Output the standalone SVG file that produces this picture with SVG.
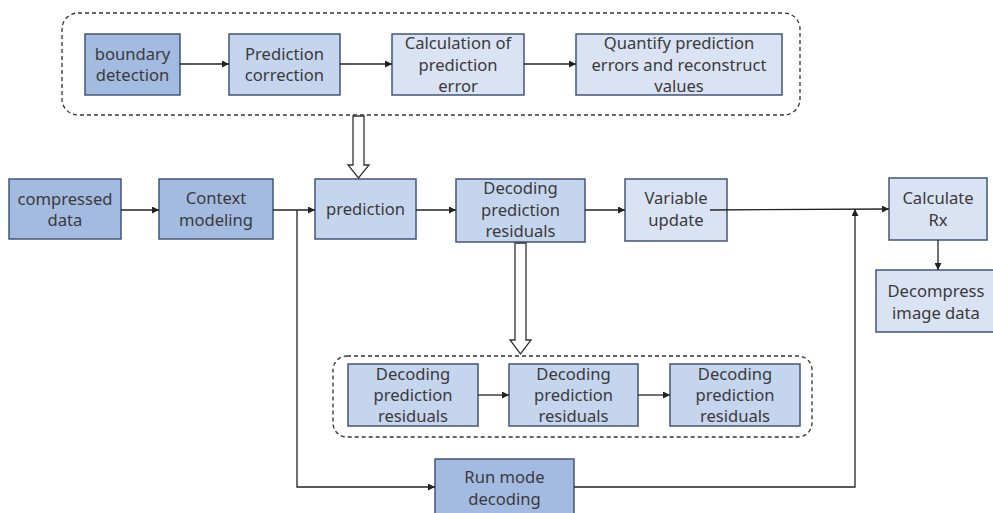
<svg xmlns="http://www.w3.org/2000/svg" width="993" height="513" viewBox="0 0 993 513">
<style>
.b{stroke:#42557a;stroke-width:1.5}
.d{fill:#a4bbe1}
.m{fill:#c6d5ee}
.l{fill:#dae3f3}
.g{fill:none;stroke:#333;stroke-width:1.3;stroke-dasharray:4,3}
.c{fill:none;stroke:#222;stroke-width:1.3}
.h{fill:#fff;stroke:#333;stroke-width:1.3}
text{font-family:"Noto Sans","Open Sans","DejaVu Sans",sans-serif;font-size:16.6px;fill:#3a3a3a;text-anchor:middle}
</style>
<defs>
<marker id="a" viewBox="0 0 10 10" refX="10" refY="5" markerWidth="7" markerHeight="7" markerUnits="userSpaceOnUse" orient="auto">
<path d="M0,0 L10,5 L0,10 z" fill="#222"/>
</marker>
</defs>
<rect class="g" x="62" y="13" width="738" height="102" rx="16"/>
<rect class="g" x="333" y="356" width="479" height="81" rx="14"/>
<g id="boundary"><rect class="b d" x="85" y="34" width="95" height="61"/><text x="132.5" y="60">boundary</text><text x="132.5" y="81">detection</text></g>
<g id="predcorr"><rect class="b m" x="229" y="34" width="111" height="61"/><text x="284.5" y="60">Prediction</text><text x="284.5" y="81">correction</text></g>
<g id="calc"><rect class="b l" x="392" y="34" width="132" height="61"/><text x="458" y="49">Calculation of</text><text x="458" y="71">prediction</text><text x="458" y="92">error</text></g>
<g id="quant"><rect class="b l" x="576" y="34" width="206" height="61"/><text x="679" y="49">Quantify prediction</text><text x="679" y="71">errors and reconstruct</text><text x="679" y="92">values</text></g>
<g id="compressed"><rect class="b d" x="9" y="179" width="112" height="60"/><text x="65" y="205">compressed</text><text x="65" y="226">data</text></g>
<g id="context"><rect class="b d" x="159" y="179" width="114" height="60"/><text x="216" y="204">Context</text><text x="216" y="226">modeling</text></g>
<g id="prediction"><rect class="b m" x="315" y="179" width="101" height="60"/><text x="365.5" y="215">prediction</text></g>
<g id="decres"><rect class="b m" x="456" y="179" width="129" height="63"/><text x="520.5" y="194">Decoding</text><text x="520.5" y="216">prediction</text><text x="520.5" y="237">residuals</text></g>
<g id="varupd"><rect class="b l" x="625" y="179" width="102" height="62"/><text x="676" y="204">Variable</text><text x="676" y="226">update</text></g>
<g id="calcrx"><rect class="b l" x="889" y="178" width="98" height="62"/><text x="938" y="204">Calculate</text><text x="938" y="226">Rx</text></g>
<g id="decomp"><rect class="b l" x="876" y="270" width="120" height="62"/><text x="936" y="297">Decompress</text><text x="936" y="319">image data</text></g>
<g id="res1"><rect class="b m" x="348" y="364" width="130" height="62"/><text x="413" y="380">Decoding</text><text x="413" y="401">prediction</text><text x="413" y="422">residuals</text></g>
<g id="res2"><rect class="b m" x="509" y="364" width="129" height="62"/><text x="573.5" y="380">Decoding</text><text x="573.5" y="401">prediction</text><text x="573.5" y="422">residuals</text></g>
<g id="res3"><rect class="b m" x="670" y="364" width="130" height="62"/><text x="735" y="380">Decoding</text><text x="735" y="401">prediction</text><text x="735" y="422">residuals</text></g>
<g id="runmode"><rect class="b d" x="435" y="459" width="139" height="60"/><text x="504.5" y="483">Run mode</text><text x="504.5" y="505">decoding</text></g>
<g id="connectors">
<line class="c" x1="180" y1="64" x2="229" y2="64" marker-end="url(#a)"/>
<line class="c" x1="340" y1="64" x2="392" y2="64" marker-end="url(#a)"/>
<line class="c" x1="524" y1="64" x2="576" y2="64" marker-end="url(#a)"/>
<line class="c" x1="121" y1="210" x2="159" y2="210" marker-end="url(#a)"/>
<line class="c" x1="273" y1="210" x2="315" y2="210" marker-end="url(#a)"/>
<line class="c" x1="416" y1="210" x2="456" y2="210" marker-end="url(#a)"/>
<line class="c" x1="585" y1="210" x2="625" y2="210" marker-end="url(#a)"/>
<line class="c" x1="710" y1="210" x2="889" y2="209" marker-end="url(#a)"/>
<line class="c" x1="938" y1="240" x2="938" y2="270" marker-end="url(#a)"/>
<polyline class="c" points="297,210 297,487 435,487" marker-end="url(#a)"/>
<polyline class="c" points="574,487 855,487 855,209" marker-end="url(#a)"/>
<line class="c" x1="478" y1="395" x2="509" y2="395" marker-end="url(#a)"/>
<line class="c" x1="638" y1="395" x2="670" y2="395" marker-end="url(#a)"/>
<path class="h" d="M353,116 L364,116 L364,165 L369,165 L358.5,178 L348,165 L353,165 z"/>
<path class="h" d="M515,243 L526,243 L526,340 L531,340 L520.5,354 L510,340 L515,340 z"/>
</g>
</svg>
